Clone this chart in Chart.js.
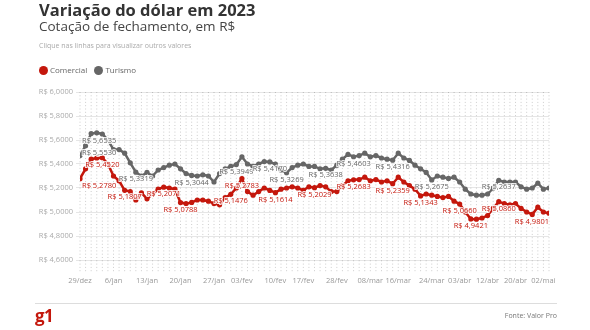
<!DOCTYPE html>
<html lang="pt-BR">
<head>
<meta charset="utf-8">
<script src="https://cdn.jsdelivr.net/npm/chart.js@4.4.1/dist/chart.umd.min.js"></script>
<style>
  html, body { margin: 0; padding: 0; background: #fff; }
  body { width: 590px; height: 330px; position: relative; overflow: hidden; font-family: "Open Sans", "Noto Sans", sans-serif; font-stretch: 100%; }
  #grafico { position: absolute; left: 0; top: 0; }
  .titulo { position: absolute; left: 39px; top: 1px; font-size: 16.5px; line-height: 17px; font-weight: 700; font-stretch: 100%; color: #333; white-space: nowrap; }
  .subtitulo { position: absolute; left: 39px; top: 19px; font-size: 13.5px; line-height: 14px; color: #444; white-space: nowrap; }
  .dica { position: absolute; left: 39px; top: 42px; font-size: 7px; line-height: 8px; color: #aaa; white-space: nowrap; }
  .legenda { position: absolute; left: 39px; top: 65px; font-size: 8px; line-height: 10px; color: #666; white-space: nowrap; }
  .legenda span.bola { display: inline-block; width: 9px; height: 9px; border-radius: 50%; vertical-align: -2px; margin-right: 2px; }
  .legenda span.item { margin-right: 5px; }
  .rodape { position: absolute; left: 35px; top: 303px; width: 522px; border-top: 1px solid #ddd; }
  .g1 { position: absolute; left: 35px; top: 306px; font-family: "Open Sans", "Noto Sans", sans-serif; font-size: 17px; line-height: 20px; font-weight: 700; font-stretch: 100%; color: #c4170c; letter-spacing: -0.5px; }
  .fonte { position: absolute; right: 33px; top: 312px; font-size: 7px; line-height: 8px; color: #777; white-space: nowrap; }
</style>
</head>
<body>
<canvas id="grafico" width="590" height="330"></canvas>
<div class="titulo">Variação do dólar em 2023</div>
<div class="subtitulo">Cotação de fechamento, em R$</div>
<div class="dica">Clique nas linhas para visualizar outros valores</div>
<div class="legenda">
  <span class="item"><span class="bola" style="background:#c4170c"></span>Comercial</span>
  <span class="item"><span class="bola" style="background:#666"></span>Turismo</span>
</div>
<div class="rodape"></div>
<div class="g1">g1</div>
<div class="fonte">Fonte: Valor Pro</div>

<script>
// Fechamento diário do dólar (29/dez/2022 a mai/2023), um valor por pregão
const comercial = [
  5.2780, 5.36, 5.44, 5.45, 5.4520, 5.40, 5.30, 5.26, 5.1807, 5.17,
  5.10, 5.16, 5.11, 5.15, 5.19, 5.2071, 5.20, 5.19, 5.0788, 5.07,
  5.08, 5.10, 5.10, 5.09, 5.07, 5.06, 5.12, 5.1476, 5.20, 5.2783,
  5.17, 5.14, 5.17, 5.20, 5.18, 5.1614, 5.19, 5.20, 5.21, 5.20,
  5.18, 5.21, 5.2029, 5.22, 5.21, 5.17, 5.17, 5.22, 5.26, 5.2683,
  5.27, 5.29, 5.26, 5.27, 5.25, 5.26, 5.2359, 5.29, 5.25, 5.22,
  5.19, 5.1343, 5.15, 5.14, 5.13, 5.12, 5.13, 5.09, 5.0660, 5.00,
  4.9421, 4.94, 4.95, 4.97, 5.03, 5.0860, 5.07, 5.06, 5.07, 5.03,
  5.00, 4.9801, 5.04, 5.00, 4.99
];
const turismo = [
  5.47, 5.5530, 5.6535, 5.66, 5.65, 5.60, 5.52, 5.52, 5.49, 5.41,
  5.3319, 5.30, 5.33, 5.30, 5.35, 5.37, 5.39, 5.40, 5.36, 5.32,
  5.3044, 5.30, 5.31, 5.30, 5.25, 5.32, 5.36, 5.38, 5.3949, 5.46,
  5.40, 5.38, 5.40, 5.42, 5.4170, 5.40, 5.35, 5.3269, 5.37, 5.39,
  5.40, 5.38, 5.38, 5.36, 5.3638, 5.35, 5.39, 5.44, 5.48, 5.4603,
  5.47, 5.49, 5.46, 5.47, 5.45, 5.44, 5.4316, 5.49, 5.45, 5.43,
  5.39, 5.36, 5.33, 5.2675, 5.30, 5.29, 5.28, 5.29, 5.25, 5.19,
  5.15, 5.14, 5.14, 5.15, 5.20, 5.2637, 5.25, 5.25, 5.25, 5.21,
  5.19, 5.20, 5.24, 5.19, 5.20
];

// pregões que recebem rótulo de valor
const rotulosComercial = [0, 4, 8, 15, 18, 27, 29, 35, 42, 49, 56, 61, 68, 70, 75, 81];
const rotulosTurismo = [1, 2, 10, 20, 28, 34, 37, 44, 49, 56, 63, 75];

// eixo x: datas exibidas e o pregão onde cada uma cai
const datasEixo = ['29/dez', '6/jan', '13/jan', '20/jan', '27/jan', '03/fev', '10/fev', '17/fev',
                   '28/fev', '08/mar', '16/mar', '24/mar', '03/abr', '12/abr', '20/abr', '02/mai'];
const posDatas = [0, 6, 12, 18, 24, 29, 35, 40, 46, 52, 57, 63, 68, 73, 78, 83];

const marcasY = [4.6, 4.8, 5.0, 5.2, 5.4, 5.6, 5.8, 6.0];

const VERMELHO = '#c4170c';
const CINZA = '#666666';

function reais(v) {
  return 'R$ ' + v.toFixed(4).replace('.', ',');
}

// linhas verticais pontilhadas, uma por pregão
const gradePontilhada = {
  id: 'gradePontilhada',
  beforeDatasetsDraw(chart) {
    const { ctx, chartArea, scales } = chart;
    ctx.save();
    ctx.strokeStyle = 'rgba(0,0,0,0.2)';
    ctx.lineWidth = 1;
    ctx.setLineDash([1, 2.3]);
    for (let i = 0; i < comercial.length; i++) {
      const x = scales.x.getPixelForValue(i);
      ctx.beginPath();
      ctx.moveTo(x, chartArea.top);
      ctx.lineTo(x, chartArea.bottom);
      ctx.stroke();
    }
    ctx.restore();
  }
};

// rótulos "R$ x,xxxx" logo abaixo dos pontos escolhidos
const rotulosValor = {
  id: 'rotulosValor',
  afterDatasetsDraw(chart) {
    const { ctx, chartArea } = chart;
    ctx.save();
    ctx.font = '7.5px "Open Sans"';
    ctx.textBaseline = 'middle';
    ctx.textAlign = 'left';
    chart.data.datasets.forEach((ds, d) => {
      const meta = chart.getDatasetMeta(d);
      ds.rotulos.forEach(i => {
        const pt = meta.data[i];
        const txt = reais(ds.data[i].y);
        const w = ctx.measureText(txt).width;
        let esq = pt.x - w / 2;
        if (esq < chartArea.left + 2) esq = chartArea.left + 2;
        if (esq + w > chartArea.right) esq = chartArea.right - w;
        const y = pt.y + 7;
        ctx.lineWidth = 2;
        ctx.strokeStyle = 'rgba(255,255,255,0.85)';
        ctx.strokeText(txt, esq, y);
        ctx.fillStyle = ds.borderColor;
        ctx.fillText(txt, esq, y);
      });
    });
    ctx.restore();
  }
};

const ctx = document.getElementById('grafico').getContext('2d');
new Chart(ctx, {
  type: 'line',
  data: {
    datasets: [
      {
        label: 'Comercial',
        data: comercial.map((v, i) => ({ x: i, y: v })),
        rotulos: rotulosComercial,
        borderColor: VERMELHO,
        backgroundColor: VERMELHO,
        borderWidth: 2.5,
        pointRadius: 2.6,
        pointBorderWidth: 0,
        tension: 0
      },
      {
        label: 'Turismo',
        data: turismo.map((v, i) => ({ x: i, y: v })),
        rotulos: rotulosTurismo,
        borderColor: CINZA,
        backgroundColor: CINZA,
        borderWidth: 2.5,
        pointRadius: 2.6,
        pointBorderWidth: 0,
        tension: 0
      }
    ]
  },
  options: {
    responsive: false,
    animation: false,
    layout: { padding: { left: 0, right: 41, top: 92, bottom: 38 } },
    plugins: {
      legend: { display: false },
      tooltip: { enabled: false }
    },
    scales: {
      x: {
        type: 'linear',
        min: 0,
        max: comercial.length - 1,
        grid: { display: false, drawTicks: false },
        border: { display: false },
        afterBuildTicks: s => { s.ticks = posDatas.map(v => ({ value: v })); },
        afterFit: s => { s.height = 20; },
        ticks: {
          autoSkip: false,
          maxRotation: 0,
          padding: 4,
          color: '#999',
          font: { family: 'Open Sans', size: 7.5 },
          callback: v => datasEixo[posDatas.indexOf(v)]
        }
      },
      y: {
        min: 4.5,
        max: 6.0,
        afterBuildTicks: s => { s.ticks = marcasY.map(v => ({ value: v })); },
        afterFit: s => { s.width = 80; },
        grid: { color: '#e6e6e6', tickLength: 4 },
        border: { display: false },
        ticks: {
          padding: 3,
          color: '#aaa',
          font: { family: 'Open Sans', size: 7.5 },
          callback: v => reais(v)
        }
      }
    }
  },
  plugins: [gradePontilhada, rotulosValor]
});
</script>
</body>
</html>
